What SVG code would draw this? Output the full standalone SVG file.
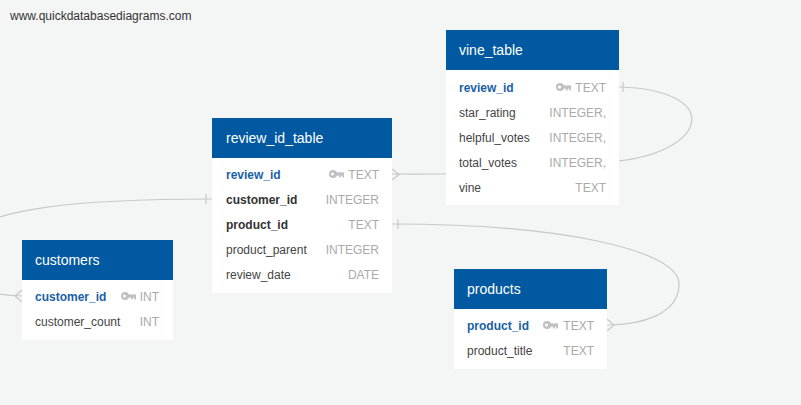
<svg xmlns="http://www.w3.org/2000/svg" xmlns:xlink="http://www.w3.org/1999/xlink" width="801" height="405" viewBox="0 0 801 405">
<style>
.bg{fill:#f4f5f5}
.hd{fill:#0059a1}
.bd{fill:#ffffff}
.ht{font-family:"Liberation Sans",Arial,sans-serif;font-size:14px;fill:#ffffff}
.f{font-family:"Liberation Sans",Arial,sans-serif;font-size:12px;fill:#444}
.pk{font-family:"Liberation Sans",Arial,sans-serif;font-size:12px;fill:#1a5fa6;font-weight:bold}
.fk{font-family:"Liberation Sans",Arial,sans-serif;font-size:12px;fill:#333;font-weight:bold}
.t{font-family:"Liberation Sans",Arial,sans-serif;font-size:12px;fill:#aaa;text-anchor:end}
.w{font-family:"Liberation Sans",Arial,sans-serif;font-size:12px;fill:#333}
.c{fill:none;stroke:#c8c8c8;stroke-width:1.2}
</style>
<defs>
<g id="key">
<circle cx="4" cy="0" r="4" fill="#c0c0c0"/>
<circle cx="3.5" cy="0" r="1.6" fill="#ffffff"/>
<rect x="7" y="-1.6" width="8" height="3.2" fill="#c0c0c0"/>
<rect x="10" y="0" width="1.8" height="3.4" fill="#c0c0c0"/>
<rect x="13.2" y="0" width="1.8" height="3.4" fill="#c0c0c0"/>
</g>
</defs>
<rect class="bg" x="0" y="0" width="801" height="405"/>
<text class="w" x="10" y="20">www.quickdatabasediagrams.com</text>
<g id="connectors">
<path class="c" d="M392,174 C480,175 540,170 619,161 C710,150 722,90 619,87"/>
<path class="c" d="M392,169 L399,174.5 L392,180"/>
<path class="c" d="M623,82 L623,92"/>
<path class="c" d="M212,199 C100,199 -40,205 -40,250 C -40,290 -5,296 22,296"/>
<path class="c" d="M22,290 L15,296 L22,302"/>
<path class="c" d="M206,194 L206,204"/>
<path class="c" d="M392,224 C560,224 679,250 679,284 C679,315 640,325 607,325"/>
<path class="c" d="M607,319 L614,325 L607,331"/>
<path class="c" d="M398,219 L398,229"/>
</g>
<g id="vine_table">
<rect class="bd" x="446" y="70" width="173" height="135"/>
<rect class="hd" x="446" y="30" width="173" height="40"/>
<text class="ht" x="459" y="55">vine_table</text>
<text class="pk" x="459" y="92">review_id</text>
<use xlink:href="#key" x="556" y="87"/>
<text class="t" x="606" y="92">TEXT</text>
<text class="f" x="459" y="117">star_rating</text>
<text class="t" x="606" y="117">INTEGER,</text>
<text class="f" x="459" y="142">helpful_votes</text>
<text class="t" x="606" y="142">INTEGER,</text>
<text class="f" x="459" y="167">total_votes</text>
<text class="t" x="606" y="167">INTEGER,</text>
<text class="f" x="459" y="192">vine</text>
<text class="t" x="606" y="192">TEXT</text>
</g>
<g id="review_id_table">
<rect class="bd" x="212" y="158" width="180" height="135"/>
<rect class="hd" x="212" y="118" width="180" height="40"/>
<text class="ht" x="226" y="143">review_id_table</text>
<text class="pk" x="226" y="179">review_id</text>
<use xlink:href="#key" x="329" y="174"/>
<text class="t" x="379" y="179">TEXT</text>
<text class="fk" x="226" y="204">customer_id</text>
<text class="t" x="379" y="204">INTEGER</text>
<text class="fk" x="226" y="229">product_id</text>
<text class="t" x="379" y="229">TEXT</text>
<text class="f" x="226" y="254">product_parent</text>
<text class="t" x="379" y="254">INTEGER</text>
<text class="f" x="226" y="279">review_date</text>
<text class="t" x="379" y="279">DATE</text>
</g>
<g id="customers">
<rect class="bd" x="22" y="280" width="151" height="60"/>
<rect class="hd" x="22" y="240" width="151" height="40"/>
<text class="ht" x="35" y="265">customers</text>
<text class="pk" x="35" y="301">customer_id</text>
<use xlink:href="#key" x="121" y="296"/>
<text class="t" x="159" y="301">INT</text>
<text class="f" x="35" y="326">customer_count</text>
<text class="t" x="159" y="326">INT</text>
</g>
<g id="products">
<rect class="bd" x="454" y="309" width="153" height="60"/>
<rect class="hd" x="454" y="269" width="153" height="40"/>
<text class="ht" x="467" y="294">products</text>
<text class="pk" x="467" y="330">product_id</text>
<use xlink:href="#key" x="543" y="325"/>
<text class="t" x="594" y="330">TEXT</text>
<text class="f" x="467" y="355">product_title</text>
<text class="t" x="594" y="355">TEXT</text>
</g>
</svg>
